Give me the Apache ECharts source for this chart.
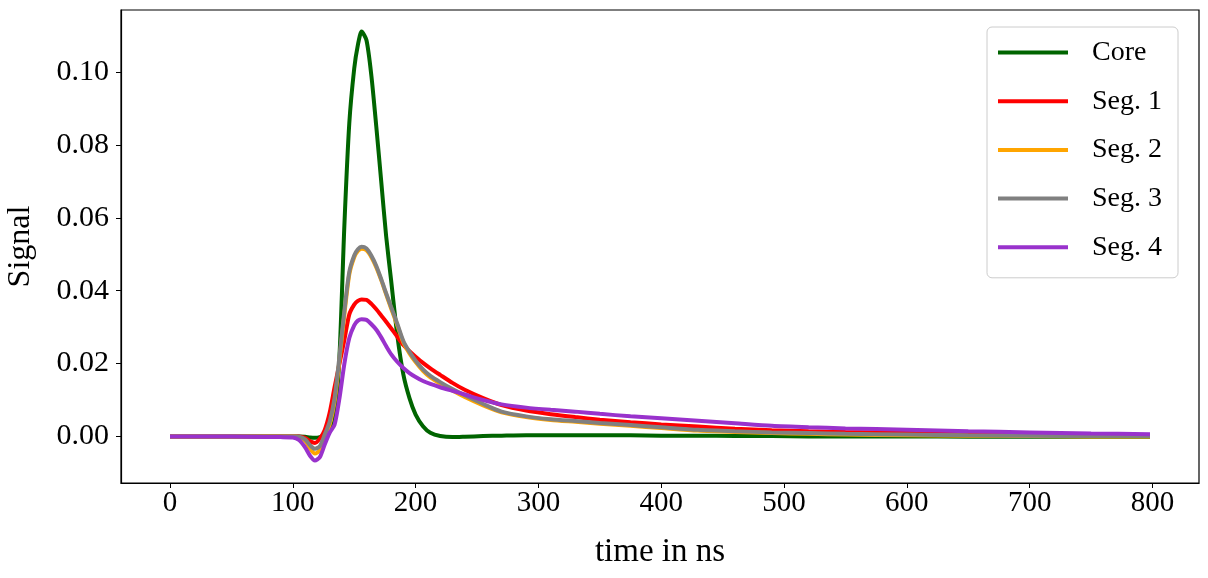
<!DOCTYPE html>
<html>
<head>
<meta charset="utf-8">
<script src="https://cdn.jsdelivr.net/npm/echarts@6/dist/echarts.min.js"></script>
<style>
html,body{margin:0;padding:0;background:#fff;}
#chart{width:1208px;height:578px;}
</style>
</head>
<body>
<div id="chart"></div>
<script>
const time = [0, 50, 90, 100, 105, 110, 114, 118, 122, 126, 130, 134, 138, 142, 146, 150, 153, 156, 160, 164, 168, 172, 176, 180, 185, 190, 195, 200, 206, 212, 220, 230, 240, 255, 270, 290, 310, 330, 350, 375, 400, 430, 460, 490, 520, 550, 600, 650, 700, 750, 798];

const core = [0, 0, 0, 0, 0, -0.0001, -0.0003, -0.0004, -0.0002, 0.0004, 0.0015, 0.0045, 0.022, 0.058, 0.086, 0.101, 0.1075, 0.1112, 0.1088, 0.099, 0.085, 0.070, 0.055, 0.043, 0.028, 0.017, 0.0105, 0.0060, 0.0028, 0.0010, 0.0001, -0.0002, -0.0001, 0.0001, 0.0002, 0.0003, 0.0003, 0.0003, 0.0003, 0.0003, 0.0002, 0.0002, 0.0001, 0.0001, 0, 0, 0, -0.0001, -0.0001, -0.0001, -0.0001];

const seg1 = [0, 0, 0, 0, 0, -0.0004, -0.0013, -0.0018, -0.0006, 0.0018, 0.0065, 0.0135, 0.0200, 0.0265, 0.0335, 0.0362, 0.0372, 0.0376, 0.0375, 0.0364, 0.0349, 0.0332, 0.0315, 0.0297, 0.0274, 0.0251, 0.0234, 0.0219, 0.0202, 0.0187, 0.0169, 0.0147, 0.0128, 0.0105, 0.0086, 0.0071, 0.0061, 0.0053, 0.0046, 0.0039, 0.0033, 0.0027, 0.0021, 0.0017, 0.0014, 0.0012, 0.0010, 0.0008, 0.0006, 0.0004, 0.0003];

const seg2 = [0, 0, 0, 0, -0.0002, -0.0012, -0.0033, -0.0047, -0.0038, -0.0003, 0.0032, 0.0095, 0.021, 0.0335, 0.0445, 0.0492, 0.0509, 0.0515, 0.0511, 0.0492, 0.0464, 0.0429, 0.0390, 0.0352, 0.0306, 0.0258, 0.0228, 0.0204, 0.0180, 0.0162, 0.0145, 0.0126, 0.0108, 0.0085, 0.0066, 0.0053, 0.0045, 0.0040, 0.0035, 0.0029, 0.0023, 0.0016, 0.0012, 0.0009, 0.0007, 0.0005, 0.0003, 0.0002, 0.0001, 0, 0];

const seg3 = [0, 0, 0, 0, -0.0001, -0.0008, -0.0024, -0.0034, -0.0027, 0.0005, 0.0040, 0.0105, 0.022, 0.0345, 0.0452, 0.0497, 0.0514, 0.0521, 0.0516, 0.0496, 0.0468, 0.0432, 0.0393, 0.0356, 0.0310, 0.0262, 0.0232, 0.0208, 0.0184, 0.0166, 0.0149, 0.0130, 0.0113, 0.0089, 0.0068, 0.0055, 0.0047, 0.0042, 0.0037, 0.0031, 0.0025, 0.0018, 0.0014, 0.0011, 0.0009, 0.0007, 0.0005, 0.0003, 0.0002, 0.0001, 0.0001];

const seg4 = [0, 0, -0.0002, -0.0003, -0.0010, -0.0030, -0.0053, -0.0066, -0.0057, -0.0022, 0.0010, 0.0032, 0.0105, 0.0200, 0.0270, 0.0305, 0.0318, 0.0322, 0.0320, 0.0308, 0.0293, 0.0272, 0.0248, 0.0226, 0.0205, 0.0188, 0.0174, 0.0163, 0.0152, 0.0144, 0.0135, 0.0125, 0.0115, 0.0100, 0.0088, 0.0079, 0.0073, 0.0068, 0.0062, 0.0055, 0.0050, 0.0043, 0.0036, 0.0029, 0.0025, 0.0022, 0.0018, 0.0014, 0.0011, 0.0008, 0.0006];

const seriesNames = ['Core', 'Seg. 1', 'Seg. 2', 'Seg. 3', 'Seg. 4'];
const seriesColors = ['#006400', '#ff0000', '#ffa500', '#808080', '#9932cc'];
const xTicks = [0, 100, 200, 300, 400, 500, 600, 700, 800];
const yTicks = [0, 0.02, 0.04, 0.06, 0.08, 0.10];

const FONT = 'Liberation Serif';
const allData = [core, seg1, seg2, seg3, seg4];

const chart = echarts.init(document.getElementById('chart'), null, {renderer: 'canvas'});
chart.setOption({
  backgroundColor: '#ffffff',
  animation: false,
  grid: {
    left: 121, right: 9, top: 10, bottom: 95,
    outerBoundsMode: 'none',
    containLabel: false,
    show: true, borderColor: '#000', borderWidth: 1.2, backgroundColor: 'transparent'
  },
  legend: {
    data: seriesNames,
    orient: 'vertical',
    left: 987, top: 27,
    padding: [11, 16, 16, 11],
    itemGap: 19.7,
    icon: 'rect',
    itemWidth: 70, itemHeight: 4,
    backgroundColor: 'rgba(255,255,255,0.85)',
    borderColor: '#cccccc', borderWidth: 1, borderRadius: 5,
    textStyle: {fontFamily: FONT, fontSize: 28, lineHeight: 29, color: '#000', padding: [0, 0, 0, 19]},
    z: 10
  },
  xAxis: {
    type: 'value',
    min: -39.9, max: 837.9,
    name: 'time in ns',
    nameLocation: 'middle',
    nameGap: 53,
    nameTextStyle: {fontFamily: FONT, fontSize: 33, color: '#000'},
    axisLine: {show: true, onZero: false, lineStyle: {color: '#000', width: 1.2}},
    axisTick: {show: true, length: 5, inside: false, customValues: xTicks, lineStyle: {color: '#000', width: 1}},
    axisLabel: {customValues: xTicks, fontFamily: FONT, fontSize: 29, color: '#000', margin: 6},
    splitLine: {show: false}
  },
  yAxis: {
    type: 'value',
    min: -0.0128, max: 0.1171,
    name: 'Signal',
    nameLocation: 'middle',
    nameGap: 84,
    nameRotate: 90,
    nameTextStyle: {fontFamily: FONT, fontSize: 32, color: '#000'},
    axisLine: {show: true, onZero: false, lineStyle: {color: '#000', width: 1.2}},
    axisTick: {show: true, length: 5, inside: false, customValues: yTicks, lineStyle: {color: '#000', width: 1}},
    axisLabel: {customValues: yTicks, fontFamily: FONT, fontSize: 30, color: '#000', margin: 12,
      formatter: v => v.toFixed(2)},
    splitLine: {show: false}
  },
  series: allData.map((arr, k) => ({
    name: seriesNames[k],
    type: 'line',
    data: time.map((t, i) => [t, arr[i]]),
    symbol: 'none',
    smooth: 0.25,
    clip: true,
    color: seriesColors[k],
    itemStyle: {color: seriesColors[k]},
    lineStyle: {width: 4, color: seriesColors[k]},
    z: 2 + k
  }))
});
</script>
</body>
</html>
